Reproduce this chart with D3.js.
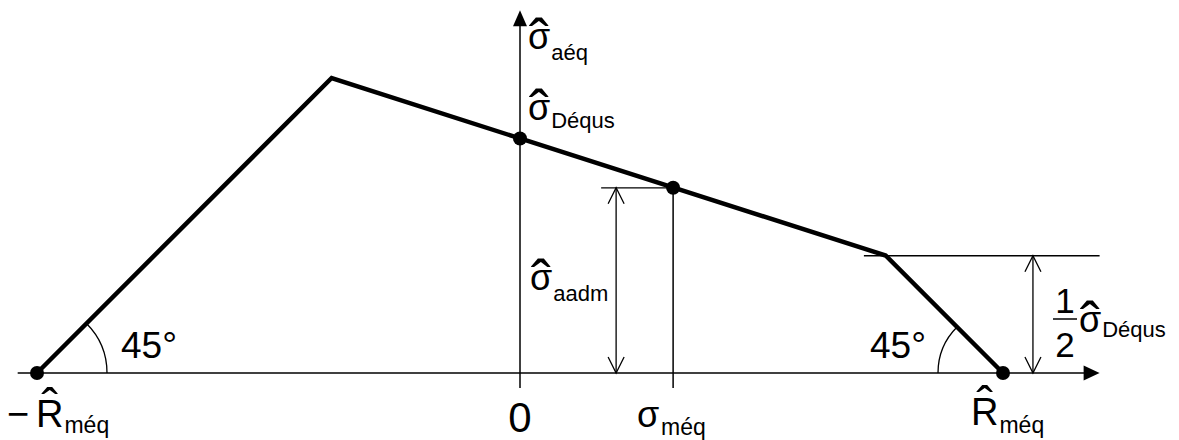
<!DOCTYPE html>
<html>
<head>
<meta charset="utf-8">
<script src="https://cdn.jsdelivr.net/npm/d3@7"></script>
<style>
  html, body { margin: 0; padding: 0; background: #fff; }
  svg { display: block; }
  text { font-family: "Liberation Sans", Arial, Helvetica, sans-serif; fill: #000; }
</style>
</head>
<body>
<svg id="chart" width="1179" height="440"></svg>
<script>
// Haigh-type fatigue envelope (equivalent mean stress vs. equivalent amplitude)
const envelopeMean = [-1000, -390, 0, 757, 1000];   // σ_méq at the envelope vertices
const envelopeAmp  = [0, 610, 485, 243, 0];          // σ_aéq at the envelope vertices
const markedMean   = [-1000, 0, 317, 1000];          // highlighted points
const markedAmp    = [0, 485, 383, 0];
const Rm        = 1000;   // R_méq
const sigmaD    = 485;    // σ_Déqus
const sigmaMeq  = 317;    // working mean stress
const sigmaAadm = 383;    // admissible amplitude at σ_méq

const svg = d3.select("#chart");
const x = d3.scaleLinear().domain([-Rm, Rm]).range([37, 1003]);
const y = d3.scaleLinear().domain([0, 610]).range([373, 78]);

const AX = 1.5, THIN = 1.3;

// ---- axes --------------------------------------------------------------
const xAxisEnd = 1200, xAxisStart = -1040;
const yAxisTop = 750, yAxisBottom = -31;

svg.append("line")
  .attr("x1", x(xAxisStart)).attr("y1", y(0))
  .attr("x2", x(xAxisEnd) - 10).attr("y2", y(0))
  .attr("stroke", "#000").attr("stroke-width", AX);
svg.append("path")
  .attr("d", `M${x(xAxisEnd)},${y(0)} L${x(xAxisEnd) - 16},${y(0) - 7.5} L${x(xAxisEnd) - 16},${y(0) + 7.5} Z`)
  .attr("fill", "#000");

svg.append("line")
  .attr("x1", x(0)).attr("y1", y(yAxisBottom))
  .attr("x2", x(0)).attr("y2", y(yAxisTop) + 10)
  .attr("stroke", "#000").attr("stroke-width", AX);
svg.append("path")
  .attr("d", `M${x(0)},${y(yAxisTop)} L${x(0) - 7},${y(yAxisTop) + 16} L${x(0) + 7},${y(yAxisTop) + 16} Z`)
  .attr("fill", "#000");

// ---- construction lines ------------------------------------------------
// vertical at the working mean stress
svg.append("line")
  .attr("x1", x(sigmaMeq)).attr("y1", y(sigmaAadm))
  .attr("x2", x(sigmaMeq)).attr("y2", y(yAxisBottom))
  .attr("stroke", "#000").attr("stroke-width", AX);
// extension line for the admissible amplitude
svg.append("line")
  .attr("x1", x(168)).attr("y1", y(sigmaAadm))
  .attr("x2", x(sigmaMeq)).attr("y2", y(sigmaAadm))
  .attr("stroke", "#000").attr("stroke-width", THIN);
// extension line at half the endurance amplitude
svg.append("line")
  .attr("x1", x(712)).attr("y1", y(sigmaD / 2))
  .attr("x2", x(xAxisEnd)).attr("y2", y(sigmaD / 2))
  .attr("stroke", "#000").attr("stroke-width", THIN);

// dimension lines with open arrowheads at both ends
function dimension(xv, v0, v1) {
  const px = x(xv), ya = y(v1), yb = y(v0);
  const g = svg.append("g").attr("fill", "none").attr("stroke", "#000").attr("stroke-width", THIN);
  g.append("line").attr("x1", px).attr("y1", ya).attr("x2", px).attr("y2", yb);
  g.append("path").attr("d", `M${px - 8},${ya + 16} L${px},${ya} L${px + 8},${ya + 16}`);
  g.append("path").attr("d", `M${px - 8},${yb - 16} L${px},${yb} L${px + 8},${yb - 16}`);
}
dimension(199, 0, sigmaAadm);
dimension(1062, 0, sigmaD / 2);

// 45° angle arcs
const arcL = d3.path();
arcL.arc(x(-Rm), y(0), 70, 0, -Math.PI / 4, true);
svg.append("path").attr("d", arcL.toString())
  .attr("fill", "none").attr("stroke", "#000").attr("stroke-width", THIN);
const arcR = d3.path();
arcR.arc(x(Rm), y(0), 65, Math.PI, Math.PI * 1.25, false);
svg.append("path").attr("d", arcR.toString())
  .attr("fill", "none").attr("stroke", "#000").attr("stroke-width", THIN);

// ---- envelope ----------------------------------------------------------
const envelope = envelopeMean.map((m, i) => [m, envelopeAmp[i]]);
svg.append("path")
  .attr("d", d3.line().x(d => x(d[0])).y(d => y(d[1]))(envelope))
  .attr("fill", "none").attr("stroke", "#000")
  .attr("stroke-width", 4.5).attr("stroke-linejoin", "miter");

svg.selectAll("circle.pt")
  .data(markedMean.map((m, i) => [m, markedAmp[i]]))
  .join("circle").attr("class", "pt")
  .attr("cx", d => x(d[0])).attr("cy", d => y(d[1])).attr("r", 7)
  .attr("fill", "#000");

// ---- labels ------------------------------------------------------------
// The spacing circumflex (U+02C6) sits between ~0.575em and ~0.72em above its baseline.
const HAT_LOW = 0.575;

// one text element: symbol, hat centred above it, and subscript
function symbolLabel(px, base, glyph, sub, opts) {
  const o = Object.assign({ size: 36, subSize: 22, subDy: 10, gap: 1,
                            hatSize: 60, hatBottom: 23, hatDx: 0 }, opts || {});
  const t = svg.append("text").attr("x", px).attr("y", base);
  const main = t.append("tspan").attr("font-size", o.size).text(glyph);
  const w = main.node().getComputedTextLength();
  const hat = t.append("tspan")
    .attr("x", px).attr("y", base - o.hatBottom + HAT_LOW * o.hatSize)
    .attr("font-size", o.hatSize).text("ˆ");
  const hw = hat.node().getComputedTextLength();
  hat.attr("x", px + w / 2 - hw / 2 + o.hatDx);
  if (sub) {
    t.append("tspan").attr("x", px + w + o.gap).attr("y", base + o.subDy)
      .attr("font-size", o.subSize).text(sub);
  }
  return t;
}

// vertical axis title and endurance amplitude
symbolLabel(528, 49, "σ", "aéq", { subDy: 11 });
symbolLabel(528, 120, "σ", "Déqus", { subDy: 8 });
// admissible amplitude
symbolLabel(530, 290, "σ", "aadm", { subDy: 11 });
// working mean stress (no hat)
const meq = svg.append("text").attr("x", 637).attr("y", 427);
meq.append("tspan").attr("font-size", 36).text("σ");
meq.append("tspan").attr("x", 661).attr("y", 435).attr("font-size", 23).text("méq");

// origin
svg.append("text").attr("x", x(0)).attr("y", 432).attr("font-size", 42)
  .attr("text-anchor", "middle").text("0");

// tensile strengths
svg.append("text").attr("x", 7).attr("y", 427).attr("font-size", 38).text("−");
symbolLabel(36, 427, "R", "méq", { size: 38, subSize: 23, subDy: 6, hatSize: 50, hatBottom: 33 });
symbolLabel(971, 425, "R", "méq", { size: 38, subSize: 23, subDy: 8, hatSize: 50, hatBottom: 33 });

// angle labels
svg.append("text").attr("x", 121).attr("y", 358).attr("font-size", 37).text("45°");
svg.append("text").attr("x", 870).attr("y", 358).attr("font-size", 37).text("45°");

// ½ σ_Déqus
svg.append("text").attr("x", 1065).attr("y", 313).attr("font-size", 35)
  .attr("text-anchor", "middle").text("1");
svg.append("line").attr("x1", 1053).attr("x2", 1077).attr("y1", 319).attr("y2", 319)
  .attr("stroke", "#000").attr("stroke-width", 1.5);
svg.append("text").attr("x", 1065).attr("y", 357).attr("font-size", 35)
  .attr("text-anchor", "middle").text("2");
symbolLabel(1079, 332, "σ", "Déqus", { subDy: 5 });
</script>
</body>
</html>
